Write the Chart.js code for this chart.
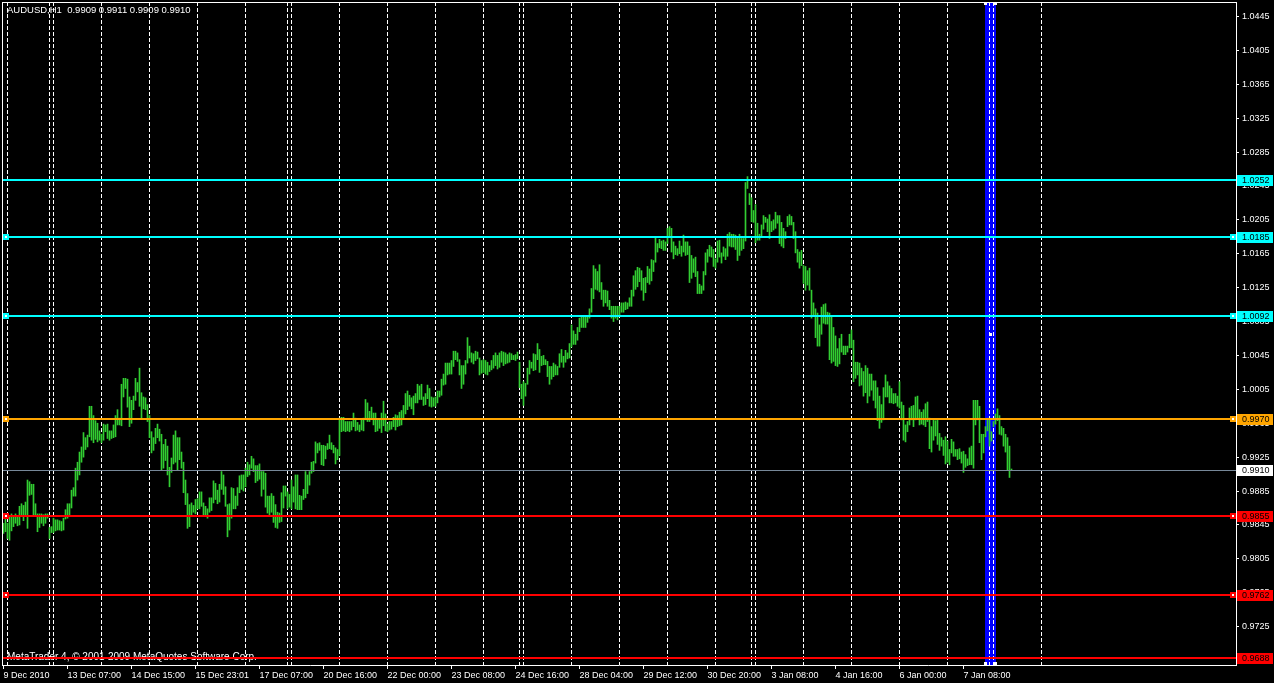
<!DOCTYPE html>
<html>
<head>
<meta charset="utf-8">
<title>AUDUSD,H1</title>
<script src="https://cdn.jsdelivr.net/npm/chart.js@4.4.1/dist/chart.umd.min.js"></script>
<style>
    html, body { margin: 0; padding: 0; background: #000; overflow: hidden; }
    canvas { display: block; }
</style>
</head>
<body>
<canvas id="audusd_chart" width="1274" height="683"></canvas>
<script>
// H1 bars, bar 0 = 9 Dec 2010 22:00 (high / low)
const barHighs = [
    0.9847, 0.9852, 0.9847, 0.9855, 0.9858, 0.9856, 0.9858, 0.9855, 0.9867, 0.9870,
    0.9868, 0.9872, 0.9898, 0.9896, 0.9893, 0.9893, 0.9870, 0.9858, 0.9858, 0.9858,
    0.9857, 0.9858, 0.9858, 0.9842, 0.9843, 0.9853, 0.9851, 0.9851, 0.9850, 0.9849,
    0.9853, 0.9863, 0.9870, 0.9870, 0.9886, 0.9889, 0.9912, 0.9919, 0.9931, 0.9937,
    0.9954, 0.9948, 0.9951, 0.9985, 0.9985, 0.9974, 0.9968, 0.9965, 0.9956, 0.9952,
    0.9964, 0.9963, 0.9964, 0.9956, 0.9956, 0.9963, 0.9974, 0.9981, 0.9971, 1.0011,
    1.0018, 1.0018, 1.0017, 0.9996, 0.9992, 0.9997, 1.0018, 1.0013, 1.0030, 1.0001,
    0.9996, 0.9995, 0.9987, 0.9974, 0.9955, 0.9948, 0.9959, 0.9964, 0.9958, 0.9952,
    0.9940, 0.9946, 0.9938, 0.9913, 0.9924, 0.9951, 0.9956, 0.9948, 0.9948, 0.9931,
    0.9919, 0.9898, 0.9882, 0.9869, 0.9871, 0.9868, 0.9875, 0.9876, 0.9884, 0.9884,
    0.9871, 0.9867, 0.9864, 0.9877, 0.9877, 0.9897, 0.9894, 0.9886, 0.9893, 0.9908,
    0.9904, 0.9890, 0.9869, 0.9870, 0.9889, 0.9888, 0.9879, 0.9889, 0.9903, 0.9904,
    0.9904, 0.9912, 0.9919, 0.9916, 0.9926, 0.9923, 0.9915, 0.9915, 0.9917, 0.9908,
    0.9908, 0.9906, 0.9879, 0.9879, 0.9882, 0.9879, 0.9869, 0.9860, 0.9859, 0.9883,
    0.9891, 0.9891, 0.9884, 0.9881, 0.9898, 0.9890, 0.9904, 0.9904, 0.9880, 0.9879,
    0.9887, 0.9908, 0.9904, 0.9908, 0.9919, 0.9920, 0.9943, 0.9941, 0.9942, 0.9939,
    0.9939, 0.9938, 0.9941, 0.9951, 0.9942, 0.9939, 0.9936, 0.9934, 0.9971, 0.9972,
    0.9972, 0.9967, 0.9967, 0.9967, 0.9967, 0.9977, 0.9971, 0.9966, 0.9963, 0.9969,
    0.9971, 0.9993, 0.9989, 0.9979, 0.9984, 0.9977, 0.9977, 0.9970, 0.9970, 0.9977,
    0.9991, 0.9976, 0.9964, 0.9967, 0.9967, 0.9972, 0.9975, 0.9974, 0.9978, 0.9980,
    0.9986, 1.0000, 1.0003, 0.9998, 0.9995, 0.9997, 1.0000, 1.0011, 1.0009, 1.0011,
    0.9996, 1.0000, 1.0010, 1.0006, 0.9996, 0.9995, 0.9996, 1.0003, 1.0003, 1.0017,
    1.0023, 1.0036, 1.0036, 1.0036, 1.0039, 1.0050, 1.0050, 1.0048, 1.0040, 1.0033,
    1.0033, 1.0039, 1.0066, 1.0056, 1.0048, 1.0047, 1.0050, 1.0049, 1.0042, 1.0039,
    1.0040, 1.0039, 1.0037, 1.0033, 1.0039, 1.0045, 1.0048, 1.0045, 1.0048, 1.0050,
    1.0049, 1.0048, 1.0046, 1.0048, 1.0047, 1.0045, 1.0046, 1.0049, 1.0037, 1.0011,
    1.0014, 1.0012, 1.0030, 1.0039, 1.0037, 1.0047, 1.0046, 1.0059, 1.0052, 1.0044,
    1.0045, 1.0040, 1.0038, 1.0032, 1.0032, 1.0036, 1.0034, 1.0032, 1.0047, 1.0052,
    1.0044, 1.0051, 1.0048, 1.0059, 1.0081, 1.0074, 1.0070, 1.0078, 1.0089, 1.0090,
    1.0091, 1.0090, 1.0091, 1.0100, 1.0124, 1.0151, 1.0147, 1.0144, 1.0152, 1.0131,
    1.0122, 1.0122, 1.0121, 1.0110, 1.0103, 1.0103, 1.0103, 1.0103, 1.0103, 1.0107,
    1.0107, 1.0108, 1.0107, 1.0113, 1.0122, 1.0139, 1.0145, 1.0149, 1.0148, 1.0145,
    1.0136, 1.0137, 1.0150, 1.0147, 1.0158, 1.0157, 1.0184, 1.0177, 1.0182, 1.0180,
    1.0181, 1.0179, 1.0195, 1.0197, 1.0195, 1.0179, 1.0174, 1.0171, 1.0180, 1.0174,
    1.0187, 1.0179, 1.0179, 1.0174, 1.0163, 1.0159, 1.0161, 1.0144, 1.0129, 1.0127,
    1.0144, 1.0166, 1.0170, 1.0175, 1.0173, 1.0170, 1.0159, 1.0180, 1.0181, 1.0166,
    1.0173, 1.0171, 1.0188, 1.0190, 1.0188, 1.0188, 1.0187, 1.0184, 1.0188, 1.0183,
    1.0183, 1.0249, 1.0256, 1.0236, 1.0231, 1.0216, 1.0223, 1.0201, 1.0188, 1.0199,
    1.0210, 1.0208, 1.0206, 1.0211, 1.0203, 1.0205, 1.0214, 1.0210, 1.0210, 1.0202,
    1.0195, 1.0191, 1.0209, 1.0211, 1.0209, 1.0202, 1.0191, 1.0170, 1.0167, 1.0169,
    1.0151, 1.0150, 1.0145, 1.0148, 1.0122, 1.0107, 1.0100, 1.0095, 1.0081, 1.0102,
    1.0105, 1.0106, 1.0096, 1.0095, 1.0091, 1.0078, 1.0068, 1.0053, 1.0065, 1.0070,
    1.0056, 1.0056, 1.0056, 1.0070, 1.0075, 1.0063, 1.0037, 1.0037, 1.0036, 1.0030,
    1.0026, 1.0033, 1.0030, 1.0023, 1.0023, 1.0015, 1.0015, 1.0007, 0.9997, 0.9987,
    1.0007, 1.0022, 1.0014, 1.0009, 1.0006, 1.0000, 1.0000, 0.9997, 1.0014, 0.9990,
    0.9986, 0.9963, 0.9967, 0.9983, 0.9985, 0.9986, 0.9996, 0.9997, 0.9981, 0.9978,
    0.9981, 0.9988, 0.9990, 0.9971, 0.9961, 0.9969, 0.9968, 0.9969, 0.9953, 0.9948,
    0.9945, 0.9949, 0.9944, 0.9934, 0.9946, 0.9943, 0.9934, 0.9934, 0.9935, 0.9931,
    0.9932, 0.9928, 0.9923, 0.9936, 0.9938, 0.9992, 0.9992, 0.9992, 0.9985, 0.9952,
    0.9952, 0.9961, 0.9971, 0.9969, 0.9955, 0.9967, 0.9976, 0.9982, 0.9974, 0.9961,
    0.9959, 0.9952, 0.9948, 0.9938, 0.9911
];

const barLows = [
    0.9835, 0.9837, 0.9829, 0.9827, 0.9838, 0.9843, 0.9847, 0.9844, 0.9845, 0.9855,
    0.9850, 0.9855, 0.9841, 0.9880, 0.9881, 0.9857, 0.9857, 0.9837, 0.9842, 0.9847,
    0.9844, 0.9847, 0.9853, 0.9829, 0.9836, 0.9836, 0.9838, 0.9839, 0.9839, 0.9838,
    0.9839, 0.9852, 0.9853, 0.9855, 0.9865, 0.9879, 0.9879, 0.9898, 0.9904, 0.9919,
    0.9925, 0.9934, 0.9937, 0.9949, 0.9945, 0.9942, 0.9946, 0.9943, 0.9945, 0.9942,
    0.9945, 0.9955, 0.9947, 0.9945, 0.9947, 0.9948, 0.9949, 0.9963, 0.9963, 0.9962,
    0.9996, 1.0006, 0.9984, 0.9961, 0.9965, 0.9981, 0.9992, 1.0002, 0.9985, 0.9971,
    0.9982, 0.9981, 0.9967, 0.9948, 0.9930, 0.9933, 0.9941, 0.9948, 0.9944, 0.9910,
    0.9912, 0.9921, 0.9904, 0.9890, 0.9907, 0.9917, 0.9919, 0.9910, 0.9922, 0.9912,
    0.9883, 0.9869, 0.9841, 0.9843, 0.9857, 0.9860, 0.9858, 0.9864, 0.9864, 0.9867,
    0.9856, 0.9857, 0.9853, 0.9860, 0.9862, 0.9871, 0.9875, 0.9870, 0.9872, 0.9887,
    0.9881, 0.9867, 0.9831, 0.9839, 0.9853, 0.9864, 0.9864, 0.9868, 0.9883, 0.9887,
    0.9885, 0.9890, 0.9902, 0.9904, 0.9912, 0.9908, 0.9895, 0.9897, 0.9899, 0.9879,
    0.9887, 0.9866, 0.9859, 0.9856, 0.9860, 0.9848, 0.9842, 0.9841, 0.9848, 0.9849,
    0.9865, 0.9879, 0.9864, 0.9866, 0.9864, 0.9872, 0.9864, 0.9863, 0.9863, 0.9863,
    0.9875, 0.9877, 0.9882, 0.9892, 0.9906, 0.9908, 0.9918, 0.9930, 0.9933, 0.9916,
    0.9915, 0.9923, 0.9934, 0.9935, 0.9934, 0.9930, 0.9917, 0.9922, 0.9927, 0.9955,
    0.9956, 0.9955, 0.9956, 0.9955, 0.9957, 0.9961, 0.9956, 0.9957, 0.9955, 0.9957,
    0.9956, 0.9969, 0.9967, 0.9967, 0.9971, 0.9963, 0.9955, 0.9956, 0.9959, 0.9954,
    0.9962, 0.9956, 0.9955, 0.9957, 0.9958, 0.9961, 0.9957, 0.9961, 0.9962, 0.9963,
    0.9970, 0.9976, 0.9981, 0.9985, 0.9982, 0.9975, 0.9989, 0.9989, 0.9993, 0.9993,
    0.9986, 0.9987, 0.9994, 0.9985, 0.9984, 0.9985, 0.9985, 0.9989, 0.9996, 0.9998,
    1.0010, 1.0011, 1.0022, 1.0023, 1.0023, 1.0032, 1.0040, 1.0038, 1.0022, 1.0006,
    1.0011, 1.0023, 1.0036, 1.0042, 1.0037, 1.0035, 1.0039, 1.0041, 1.0022, 1.0024,
    1.0025, 1.0023, 1.0022, 1.0026, 1.0028, 1.0030, 1.0033, 1.0029, 1.0031, 1.0037,
    1.0033, 1.0035, 1.0036, 1.0037, 1.0040, 1.0040, 1.0039, 1.0041, 1.0007, 0.9994,
    0.9986, 0.9997, 1.0011, 1.0023, 1.0030, 1.0027, 1.0028, 1.0040, 1.0025, 1.0033,
    1.0034, 1.0034, 1.0020, 1.0011, 1.0017, 1.0020, 1.0022, 1.0022, 1.0031, 1.0037,
    1.0031, 1.0037, 1.0041, 1.0042, 1.0055, 1.0058, 1.0058, 1.0063, 1.0073, 1.0078,
    1.0078, 1.0078, 1.0084, 1.0089, 1.0096, 1.0112, 1.0123, 1.0122, 1.0120, 1.0111,
    1.0103, 1.0107, 1.0103, 1.0099, 1.0089, 1.0085, 1.0089, 1.0087, 1.0091, 1.0096,
    1.0096, 1.0099, 1.0100, 1.0103, 1.0103, 1.0115, 1.0123, 1.0126, 1.0132, 1.0122,
    1.0110, 1.0119, 1.0131, 1.0129, 1.0133, 1.0144, 1.0155, 1.0167, 1.0172, 1.0171,
    1.0169, 1.0169, 1.0177, 1.0185, 1.0167, 1.0159, 1.0164, 1.0163, 1.0165, 1.0162,
    1.0167, 1.0163, 1.0164, 1.0131, 1.0136, 1.0143, 1.0138, 1.0118, 1.0118, 1.0118,
    1.0122, 1.0140, 1.0155, 1.0162, 1.0161, 1.0150, 1.0148, 1.0155, 1.0161, 1.0154,
    1.0162, 1.0158, 1.0162, 1.0174, 1.0173, 1.0173, 1.0170, 1.0157, 1.0163, 1.0169,
    1.0171, 1.0180, 1.0242, 1.0223, 1.0203, 1.0202, 1.0178, 1.0181, 1.0181, 1.0184,
    1.0194, 1.0202, 1.0191, 1.0183, 1.0191, 1.0193, 1.0195, 1.0201, 1.0177, 1.0174,
    1.0172, 1.0183, 1.0197, 1.0199, 1.0199, 1.0183, 1.0166, 1.0155, 1.0148, 1.0151,
    1.0130, 1.0122, 1.0128, 1.0122, 1.0089, 1.0091, 1.0066, 1.0056, 1.0056, 1.0070,
    1.0083, 1.0082, 1.0082, 1.0040, 1.0036, 1.0038, 1.0033, 1.0032, 1.0035, 1.0049,
    1.0046, 1.0046, 1.0049, 1.0054, 1.0054, 1.0014, 1.0018, 1.0022, 1.0009, 1.0010,
    0.9997, 1.0001, 0.9989, 0.9997, 1.0004, 0.9992, 0.9983, 0.9968, 0.9959, 0.9966,
    0.9969, 0.9996, 0.9996, 0.9989, 0.9989, 0.9988, 0.9989, 0.9985, 0.9983, 0.9969,
    0.9945, 0.9943, 0.9955, 0.9963, 0.9969, 0.9961, 0.9969, 0.9970, 0.9963, 0.9964,
    0.9963, 0.9961, 0.9967, 0.9935, 0.9931, 0.9945, 0.9950, 0.9940, 0.9933, 0.9938,
    0.9927, 0.9917, 0.9919, 0.9916, 0.9930, 0.9926, 0.9926, 0.9922, 0.9923, 0.9918,
    0.9907, 0.9913, 0.9915, 0.9916, 0.9916, 0.9912, 0.9963, 0.9969, 0.9942, 0.9922,
    0.9930, 0.9949, 0.9956, 0.9938, 0.9944, 0.9961, 0.9964, 0.9968, 0.9952, 0.9951,
    0.9938, 0.9931, 0.9910, 0.9901, 0.9909
];

// Time axis: labelled bars and the first bar of every day (grid)
const xTickBars   = [0, 32, 64, 96, 128, 160, 192, 224, 256, 288, 320, 352, 384, 416, 448, 480];
const xTickLabels = [
    '9 Dec 2010', '13 Dec 07:00', '14 Dec 15:00', '15 Dec 23:01', '17 Dec 07:00', '20 Dec 16:00',
    '22 Dec 00:00', '23 Dec 08:00', '24 Dec 16:00', '28 Dec 04:00', '29 Dec 12:00', '30 Dec 20:00',
    '3 Jan 08:00', '4 Jan 16:00', '6 Jan 00:00', '7 Jan 08:00'
];
const dayStartBars = [
    2, 23, 25, 49, 73, 97, 121, 142, 144, 168, 192, 216, 240, 258, 260,
    284, 308, 332, 356, 374, 376, 400, 424, 448, 472, 493, 495, 519
];

// Price axis
const yTickLabels = [
    '1.0445', '1.0405', '1.0365', '1.0325', '1.0285', '1.0245', '1.0205', '1.0165', '1.0125', '1.0085',
    '1.0045', '1.0005', '0.9965', '0.9925', '0.9885', '0.9845', '0.9805', '0.9765', '0.9725', '0.9685'
];

// Horizontal levels (support / resistance + current bid)
const levelPrices = [1.0252, 1.0185, 1.0092, 0.9970, 0.9910, 0.9855, 0.9762, 0.9688];
const levelTexts  = ['1.0252', '1.0185', '1.0092', '0.9970', '0.9910', '0.9855', '0.9762', '0.9688'];

// Selected vertical line (weekend 8-9 Jan) and header text
const selectedLineBar = 493.5;
const headerText    = 'AUDUSD,H1  0.9909 0.9911 0.9909 0.9910';
const copyrightText = 'MetaTrader 4, \u00a9 2001-2009 MetaQuotes Software Corp.';

// Styles
const mtFont = 'Liberation Sans, Arial, sans-serif';
const levelStyles = [
    { color: '#00ffff', box: '#00ffff', width: 2, handles: false },
    { color: '#00ffff', box: '#00ffff', width: 2, handles: true },
    { color: '#00ffff', box: '#00ffff', width: 2, handles: true },
    { color: '#ffa500', box: '#ffa500', width: 2, handles: true },
    { color: '#778899', box: '#ffffff', width: 1, handles: false },
    { color: '#ff0000', box: '#ff0000', width: 2, handles: true },
    { color: '#ff0000', box: '#ff0000', width: 2, handles: true },
    { color: '#ff0000', box: '#ff0000', width: 2, handles: false }
];

// MT4 style decorations: selected vertical line, levels, frame, texts
const mtOverlay = {
    id: 'mtOverlay',
    beforeDraw( chart )
    {
        const { ctx, chartArea: a, scales } = chart;
        const cx = Math.floor( scales.x.getPixelForValue( selectedLineBar ) );
        ctx.save();
        ctx.fillStyle = '#0000ff';
        ctx.fillRect( cx - 5, a.top, 11, a.bottom - a.top );
        ctx.restore();
    },
    afterDatasetsDraw( chart )
    {
        const { ctx, chartArea: a, scales } = chart;
        ctx.save();

        ctx.font = '10px ' + mtFont;
        ctx.fillStyle = '#ffffff';
        ctx.textBaseline = 'middle';
        ctx.fillText( copyrightText, a.left + 5, a.bottom - 8 );

        levelPrices.forEach( ( price, i ) => {
            const st = levelStyles[i];
            const py = Math.round( scales.y.getPixelForValue( price ) );
            ctx.fillStyle = st.color;
            if ( st.width === 2 )
                ctx.fillRect( a.left, py - 1, a.right - a.left, 2 );
            else
                ctx.fillRect( a.left, py, a.right - a.left, 1 );

            if ( st.handles )
            {
                [a.left + 1, a.right - 6].forEach( hx => {
                    ctx.fillStyle = st.color;
                    ctx.fillRect( hx, py - 3, 6, 6 );
                    ctx.fillStyle = '#ffffff';
                    ctx.fillRect( hx + 2, py - 1, 2, 2 );
                });
            }

            ctx.fillStyle = st.box;
            ctx.fillRect( a.right + 1, py - 5, 36, 11 );
            ctx.fillStyle = '#000000';
            ctx.font = '9px ' + mtFont;
            ctx.textBaseline = 'middle';
            ctx.fillText( levelTexts[i], a.right + 6, py + 0.5 );
        });

        ctx.restore();
    },
    afterDraw( chart )
    {
        const { ctx, chartArea: a, scales } = chart;
        ctx.save();

        // frame (left / top)
        ctx.fillStyle = '#ffffff';
        ctx.fillRect( a.left, a.top, 1, a.bottom - a.top );
        ctx.fillRect( a.left, a.top, a.right - a.left, 1 );

        // handles of the selected vertical line
        const cx = Math.floor( scales.x.getPixelForValue( selectedLineBar ) );
        ctx.fillRect( cx - 6, a.top, 3, 3 );
        ctx.fillRect( cx + 4, a.top, 3, 3 );
        ctx.fillRect( cx - 6, a.bottom - 3, 3, 3 );
        ctx.fillRect( cx + 4, a.bottom - 3, 3, 3 );
        ctx.fillRect( cx - 1, Math.round( ( a.top + a.bottom ) / 2 ) - 1, 3, 3 );

        // header
        ctx.font = '9.5px ' + mtFont;
        ctx.textBaseline = 'middle';
        ctx.fillText( headerText, a.left + 5, a.top + 8 );

        ctx.restore();
    }
};

// Chart data
const barsData = {
    datasets: [{
        data: barHighs.map( ( high, i ) => ( { x: i, y: [barLows[i], high] } ) ),
        backgroundColor: '#32cd32',
        borderWidth: 0,
        barThickness: 1,
        grouped: false
    }]
};

// Chart config
const xMin = -0.75, xMax = 616.25;
const yMin = 0.967974, yMax = 1.046202;

const noSidePadding = ( scale ) => {
    scale.paddingLeft = 0;
    scale.paddingRight = 0;
    scale.paddingTop = 0;
    scale.paddingBottom = 0;
};

const barsConfig = {
    type: 'bar',
    data: barsData,
    options: {
        responsive: false,
        devicePixelRatio: 1,
        animation: false,
        events: [],
        layout: { padding: { left: 2, top: 2, right: 0, bottom: 0 } },
        plugins: {
            legend: { display: false },
            tooltip: { enabled: false }
        },
        scales: {
            x: {
                type: 'linear',
                position: 'bottom',
                min: xMin,
                max: xMax,
                offset: false,
                afterBuildTicks: ( scale ) => { scale.ticks = xTickBars.map( v => ( { value: v } ) ); },
                afterFit: ( scale ) => { scale.height = 18; noSidePadding( scale ); },
                grid: { offset: false, drawOnChartArea: false, drawTicks: true, tickLength: 4, color: '#ffffff' },
                border: { display: true, color: '#ffffff', width: 1 },
                ticks: {
                    color: '#ffffff',
                    font: { family: mtFont, size: 9 },
                    align: 'start',
                    maxRotation: 0,
                    autoSkip: false,
                    padding: 1,
                    callback: ( v, i ) => xTickLabels[i]
                }
            },
            xGrid: {
                type: 'linear',
                position: 'bottom',
                min: xMin,
                max: xMax,
                offset: false,
                afterBuildTicks: ( scale ) => { scale.ticks = dayStartBars.map( v => ( { value: v } ) ); },
                afterFit: ( scale ) => { scale.height = 0; noSidePadding( scale ); },
                grid: { offset: false, color: '#ffffff', lineWidth: 1, drawTicks: false },
                border: { display: false, dash: [4, 2] },
                ticks: { display: false }
            },
            y: {
                type: 'linear',
                position: 'right',
                min: yMin,
                max: yMax,
                beginAtZero: false,
                afterBuildTicks: ( scale ) => { scale.ticks = yTickLabels.map( t => ( { value: parseFloat( t ) } ) ); },
                afterFit: ( scale ) => { scale.width = 38; noSidePadding( scale ); },
                grid: { drawOnChartArea: false, drawTicks: true, tickLength: 3, color: '#ffffff' },
                border: { display: true, color: '#ffffff', width: 1 },
                ticks: {
                    color: '#ffffff',
                    font: { family: mtFont, size: 9 },
                    autoSkip: false,
                    padding: 3,
                    callback: ( v, i ) => yTickLabels[i]
                }
            }
        }
    },
    plugins: [mtOverlay]
};

let barsCtx = document.getElementById('audusd_chart');

if ( barsCtx )
    new Chart(barsCtx, barsConfig);
</script>
</body>
</html>
